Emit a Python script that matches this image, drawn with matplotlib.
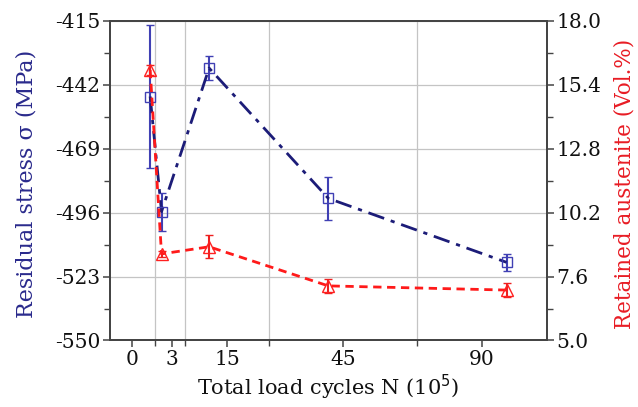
import matplotlib
matplotlib.use('Agg')
import matplotlib.pyplot as plt

# plot positions on the x axis (axis is not linear in N, so positions are separate)
x_pos = [9.2, 11.8, 22.7, 50.0, 90.8]
tick_pos = [5.1, 14.1, 26.9, 53.4, 85.2]
tick_labels = ['0', '3', '15', '45', '90']
grid_pos = [10.3, 17.2, 36.4, 70.2]

stress = [-447, -495.6, -435, -490, -517]
stress_err = [30, 8, 5, 9, 3.5]
austenite = [16.0, 8.52, 8.81, 7.22, 7.05]
austenite_err = [0.2, 0.12, 0.47, 0.3, 0.3]

stress_ticks = [-550, -523, -496, -469, -442, -415]
aust_ticks = [5.0, 7.6, 10.2, 12.8, 15.4, 18.0]

plt.rcParams['font.family'] = ['DejaVu Serif']
plt.rcParams['font.size'] = 14.5

fig = plt.figure(figsize=(6.38, 4.07), dpi=100)
ax = fig.add_axes([0.1724, 0.1634, 0.6845, 0.7857])
ax2 = ax.twinx()

ax.errorbar(x_pos, stress, yerr=stress_err, color='#1c1c78', linestyle=(0, (6, 2.5, 1.5, 2.5)),
            linewidth=2, marker='s', markersize=6.5, markerfacecolor='none',
            markeredgecolor='#4040b4', markeredgewidth=1, ecolor='#4040b4',
            elinewidth=1.5, capsize=3, capthick=1.5)
ax2.errorbar(x_pos, austenite, yerr=austenite_err, color='#ff1a1a', linestyle=(0, (3, 2)),
             linewidth=2, marker='^', markersize=8.5, markerfacecolor='none',
             markeredgecolor='#ff2020', markeredgewidth=1, ecolor='#ee2020',
             elinewidth=1.5, capsize=3, capthick=1.5)

ax.set_xlim(0, 100)
ax.set_ylim(-550, -415)
ax2.set_ylim(5.0, 18.0)

ax.set_xticks(tick_pos)
ax.set_xticklabels(tick_labels)
ax.set_xticks(grid_pos, minor=True)
ax.set_yticks(stress_ticks)
ax.set_yticklabels([str(v) for v in stress_ticks])
ax.set_yticks([(a + b) / 2 for a, b in zip(stress_ticks[:-1], stress_ticks[1:])], minor=True)
ax2.set_yticks(aust_ticks)
ax2.set_yticklabels(['%.1f' % v for v in aust_ticks])
ax2.set_yticks([(a + b) / 2 for a, b in zip(aust_ticks[:-1], aust_ticks[1:])], minor=True)

ax.grid(True, axis='y', which='major', color='#c4c4c4', linewidth=0.9)
ax.grid(True, axis='x', which='minor', color='#c4c4c4', linewidth=0.9)
ax.set_axisbelow(True)

for a in (ax, ax2):
    for s in a.spines.values():
        s.set_color('#444444')
        s.set_linewidth(1.3)
    a.tick_params(which='major', direction='out', length=5, width=1.1, color='#444444',
                  labelcolor='#111111', labelsize=14.5, pad=2)
    a.tick_params(which='minor', direction='out', length=4, width=1.0, color='#444444')

ax.set_xlabel('Total load cycles N (10$^5$)', color='#111111', fontsize=15)
ax.xaxis.set_label_coords(0.5, -0.1)
ax.set_ylabel('Residual stress σ (MPa)', color='#2a2a8c', fontsize=16)
ax.yaxis.set_label_coords(-0.165, 0.49)
ax2.set_ylabel('Retained austenite (Vol.%)', color='#e81c24', fontsize=15.5, rotation=90)
ax2.yaxis.set_label_coords(1.152, 0.49)

fig.savefig('out.png', dpi=100)
